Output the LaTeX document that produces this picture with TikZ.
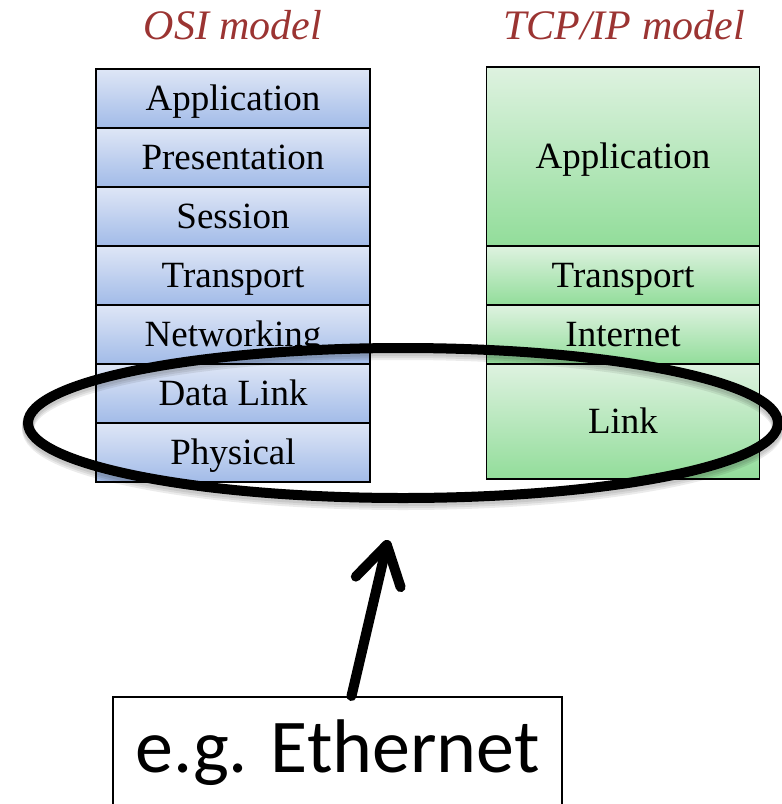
\documentclass[tikz,border=0pt]{standalone}
\usepackage{fontspec}
\setmainfont{Liberation Serif}
\newfontfamily\labelsans{Carlito}
\usetikzlibrary{arrows.meta}

\definecolor{headred}{RGB}{155,52,50}
\definecolor{ositop}{RGB}{222,230,246}
\definecolor{osibot}{RGB}{162,187,232}
\definecolor{tcptop}{RGB}{222,242,224}
\definecolor{tcpbot}{RGB}{146,221,154}

\tikzset{
  header/.style={text=headred, font=\itshape\fontsize{42}{46}\selectfont},
  layer/.style={draw=black, line width=1.6pt, inner sep=0pt,
    text height=31pt, text depth=7pt,
    font=\fontsize{37}{40}\selectfont},
  osilayer/.style={layer, top color=ositop, bottom color=osibot,
    minimum width=274pt, minimum height=59pt},
  tcplayer/.style={layer, top color=tcptop, bottom color=tcpbot,
    minimum width=273pt},
  ring/.style={draw=black, line width=10pt},
  ringshadow/.style={draw=black, line width=12pt, opacity=0.08},
  pointer/.style={line width=10pt, line cap=round, line join=round,
    -{Straight Barb[length=38pt, width=46pt, round]}},
  notebox/.style={draw=black, line width=2pt, fill=white, inner sep=0pt,
    minimum width=449pt, minimum height=116pt,
    text height=52pt, text depth=18pt,
    font=\labelsans\fontsize{76}{80}\selectfont},
}

\begin{document}
\begin{tikzpicture}[x=1pt, y=-1pt]
  \useasboundingbox (0,0) rectangle (782,804);

  % column titles
  \node[header] (osititle) at (233,25) {OSI model};
  \node[header] (tcptitle) at (624,25) {TCP/IP model};

  % OSI reference model, seven layers
  \node[osilayer] (app)  at (233, 98.5) {Application};
  \node[osilayer] (pres) at (233,157.5) {Presentation};
  \node[osilayer] (sess) at (233,216.5) {Session};
  \node[osilayer] (trn)  at (233,275.5) {Transport};
  \node[osilayer] (net)  at (233,334.5) {Networking};
  \node[osilayer] (dl)   at (233,393.5) {Data Link};
  \node[osilayer] (phy)  at (233,452.5) {Physical};

  % TCP/IP model, four layers
  \node[tcplayer, minimum height=179pt] (tapp) at (623,156.5) {Application};
  \node[tcplayer, minimum height=59pt]  (ttrn) at (623,275.5) {Transport};
  \node[tcplayer, minimum height=59pt]  (tint) at (623,334.5) {Internet};
  \node[tcplayer, minimum height=115pt] (tlnk) at (623,421.5) {Link};

  % ring around the lower layers, with a soft shadow
  \foreach \d in {2,4,6}
    \draw[ringshadow] (403,423+\d) ellipse [x radius=375, y radius=75];
  \draw[ring] (403,423) ellipse [x radius=375, y radius=75];

  % example technology
  \node[notebox] (eth) at (337.5,755) {e.g. Ethernet};
  \coordinate (tip) at (388,540);
  \draw[pointer] ([xshift=14pt]eth.north) -- (tip);
\end{tikzpicture}
\end{document}
